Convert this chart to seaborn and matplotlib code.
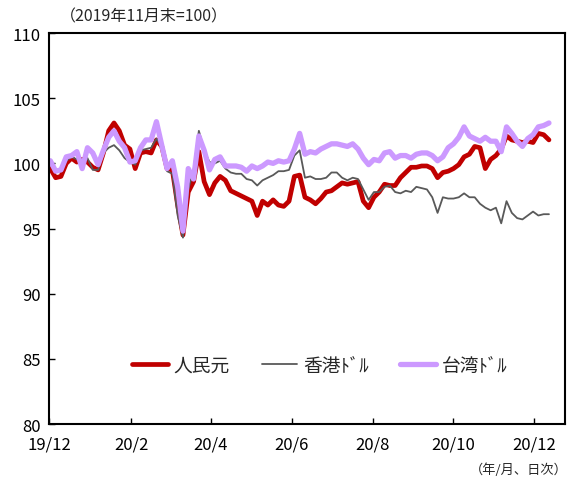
import pandas as pd
import matplotlib
matplotlib.use("Agg")
import matplotlib.pyplot as plt
import seaborn as sns

# values, one point every 4 days from 2019-12-02
dates = pd.date_range("2019-12-02", periods=95, freq="4D")

cny = [99.6, 98.9, 99.0, 100.0, 100.4, 100.1, 100.3, 100.1, 99.7, 99.5,
       100.8, 102.5, 103.1, 102.5, 101.4, 101.1, 99.6, 100.8, 100.9, 100.8,
       101.8, 101.3, 99.6, 99.5, 96.8, 94.5, 97.8, 98.6, 100.9, 98.6,
       97.6, 98.5, 99.0, 98.7, 97.9, 97.7, 97.5, 97.3, 97.1, 96.0,
       97.1, 96.8, 97.2, 96.8, 96.7, 97.1, 99.0, 99.1, 97.4, 97.2,
       96.9, 97.3, 97.8, 97.9, 98.2, 98.5, 98.4, 98.5, 98.6, 97.1,
       96.6, 97.4, 97.8, 98.4, 98.3, 98.3, 98.9, 99.3, 99.7, 99.7,
       99.8, 99.8, 99.6, 98.9, 99.3, 99.4, 99.6, 99.9, 100.5, 100.7,
       101.3, 101.2, 99.6, 100.3, 100.6, 101.1, 102.1, 101.8, 101.7, 101.6,
       101.7, 101.6, 102.3, 102.2, 101.8]

hkd = [99.9, 99.4, 99.4, 100.2, 100.5, 100.3, 100.3, 100.4, 99.5, 99.5,
       100.8, 101.2, 101.4, 101.0, 100.4, 100.1, 99.9, 101.0, 101.1, 101.2,
       101.9, 101.3, 99.4, 99.2, 96.0, 94.3, 98.0, 99.5, 102.5, 101.0,
       100.1, 100.0, 100.2, 99.6, 99.3, 99.2, 99.2, 98.8, 98.7, 98.3,
       98.7, 98.9, 99.1, 99.4, 99.4, 99.5, 100.6, 101.0, 98.9, 99.0,
       98.8, 98.8, 98.9, 99.3, 99.3, 98.9, 98.7, 98.9, 98.8, 98.0,
       97.2, 97.8, 97.8, 98.2, 98.3, 97.8, 97.7, 97.9, 97.8, 98.2,
       98.1, 98.0, 97.4, 96.2, 97.4, 97.3, 97.3, 97.4, 97.7, 97.4,
       97.4, 96.9, 96.6, 96.4, 96.6, 95.4, 97.1, 96.2, 95.8, 95.7,
       96.0, 96.3, 96.0, 96.1, 96.1]

twd = [100.2, 99.4, 99.5, 100.5, 100.6, 100.9, 99.6, 101.2, 100.8, 99.9,
       101.0, 102.0, 102.5, 101.7, 101.2, 100.1, 100.2, 101.2, 101.8, 101.8,
       103.2, 101.4, 99.6, 100.2, 98.2, 94.8, 99.6, 98.8, 102.1, 101.0,
       99.5, 100.3, 100.5, 99.8, 99.8, 99.8, 99.7, 99.4, 99.8, 99.6,
       99.8, 100.1, 100.0, 100.2, 100.1, 100.2, 101.1, 102.3, 100.7, 100.9,
       100.8, 101.1, 101.3, 101.5, 101.5, 101.4, 101.3, 101.5, 101.1, 100.4,
       99.9, 100.3, 100.2, 100.8, 100.9, 100.4, 100.6, 100.6, 100.4, 100.7,
       100.8, 100.8, 100.6, 100.2, 100.5, 101.2, 101.5, 102.0, 102.8, 102.1,
       101.9, 101.7, 102.0, 101.7, 101.7, 100.9, 102.8, 102.3, 101.7, 101.3,
       101.9, 102.2, 102.8, 102.9, 103.1]

tick_dates = ["2019-12-01", "2020-02-01", "2020-04-01", "2020-06-01",
              "2020-08-01", "2020-10-01", "2020-12-01"]
tick_labels = ["19/12", "20/2", "20/4", "20/6", "20/8", "20/10", "20/12"]

sns.set_theme(style="white")
plt.rcParams["font.family"] = ["Noto Sans CJK JP", "DejaVu Sans"]

fig = plt.figure(figsize=(5.7, 4.81), dpi=100)
ax = fig.add_axes([0.086, 0.1164, 0.905, 0.8128])

sns.lineplot(x=dates, y=cny, ax=ax, color="#c00000", linewidth=3.4, label="人民元")
sns.lineplot(x=dates, y=hkd, ax=ax, color="#595959", linewidth=1.3, label="香港ﾄﾞﾙ")
sns.lineplot(x=dates, y=twd, ax=ax, color="#cc99ff", linewidth=3.8, label="台湾ﾄﾞﾙ")

ax.set_ylim(80, 110)
ax.set_yticks(range(80, 111, 5))
ax.set_xlim(pd.Timestamp("2019-12-01"), pd.Timestamp("2020-12-24"))
ax.set_xticks(pd.to_datetime(tick_dates))
ax.set_xticklabels(tick_labels)
ax.set_xlabel("")
ax.set_ylabel("")

ax.tick_params(axis="both", direction="in", length=4, width=1, colors="black",
               labelsize=12, left=True, bottom=True)
ax.tick_params(axis="x", pad=8)
ax.tick_params(axis="y", pad=6)
for s in ax.spines.values():
    s.set_color("black")
    s.set_linewidth(1.5)

ax.legend(loc="center", bbox_to_anchor=(0.525, 0.15), ncol=3, frameon=False,
          fontsize=13.5, handlelength=1.9, handletextpad=0.3, columnspacing=1.7)

fig.text(0.105, 0.965, "（2019年11月末=100）", fontsize=11.5, ha="left", va="center")
fig.text(0.996, 0.022, "（年/月、日次）", fontsize=9.5, ha="right", va="center")

fig.savefig("out.png", dpi=100)
